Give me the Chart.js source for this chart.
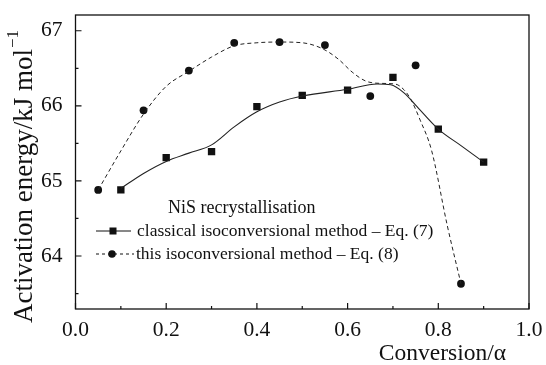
<!DOCTYPE html>
<html>
<head>
<meta charset="utf-8">
<script src="https://cdn.jsdelivr.net/npm/chart.js@4"></script>
<style>
  html, body { margin: 0; padding: 0; background: #fff; }
  #wrap { width: 546px; height: 365px; position: relative; }
</style>
</head>
<body>
<div id="wrap"><canvas id="myChart"></canvas></div>
<script>
// measured points
var xClassical = [0.1, 0.2, 0.3, 0.4, 0.5, 0.6, 0.7, 0.8, 0.9];
var eClassical = [64.88, 65.31, 65.39, 65.99, 66.14, 66.21, 66.38, 65.69, 65.25];
var xThis = [0.05, 0.15, 0.25, 0.35, 0.45, 0.55, 0.65, 0.75, 0.85];
var eThis = [64.88, 65.94, 66.47, 66.84, 66.85, 66.81, 66.13, 66.54, 63.63];

// fitted curves
var fitClassicalX = [0.1, 0.15, 0.2, 0.25, 0.3, 0.35, 0.4, 0.45, 0.5, 0.6, 0.665, 0.695, 0.725, 0.75, 0.8, 0.85, 0.9];
var fitClassicalE = [64.9, 65.1, 65.26, 65.37, 65.48, 65.72, 65.92, 66.05, 66.13, 66.22, 66.29, 66.28, 66.17, 66.01, 65.69, 65.47, 65.25];
var fitThisX = [0.05, 0.1, 0.15, 0.2, 0.25, 0.3, 0.35, 0.4, 0.45, 0.5, 0.545, 0.58, 0.61, 0.64, 0.67, 0.705, 0.725, 0.74, 0.76, 0.785, 0.82, 0.85];
var fitThisE = [64.88, 65.40, 65.89, 66.26, 66.46, 66.65, 66.80, 66.84, 66.85, 66.84, 66.76, 66.62, 66.45, 66.33, 66.30, 66.29, 66.21, 66.08, 65.81, 65.41, 64.40, 63.63];

var xTicks = [0.0, 0.2, 0.4, 0.6, 0.8, 1.0];
var xMinorTicks = [0.1, 0.3, 0.5, 0.7, 0.9];
var yTicks = [64, 65, 66, 67];
var yMinorTicks = [63.5, 64.5, 65.5, 66.5];

var legendTitle = 'NiS recrystallisation';
var legendLabels = ['classical isoconversional method \u2013 Eq. (7)', 'this isoconversional method \u2013 Eq. (8)'];
var xTitle = 'Conversion/\u03b1';
var yTitle = 'Activation energy/kJ mol';

var FONT = "'Liberation Serif', 'Times New Roman', serif";
var INK = '#111';

function pts(xs, ys) {
    return xs.map(function (x, i) { return { x: x, y: ys[i] }; });
}

var decor = {
    id: 'decor',
    afterDraw: function (chart) {
        var c = chart.ctx, a = chart.chartArea;
        var sx = chart.scales.x, sy = chart.scales.y;
        c.save();
        c.strokeStyle = INK;
        c.lineWidth = 1.3;
        c.strokeRect(a.left, a.top, a.right - a.left, a.bottom - a.top);
        c.lineWidth = 1.2;
        c.beginPath();
        xTicks.forEach(function (v) { var p = sx.getPixelForValue(v); c.moveTo(p, a.bottom); c.lineTo(p, a.bottom - 6); });
        xMinorTicks.forEach(function (v) { var p = sx.getPixelForValue(v); c.moveTo(p, a.bottom); c.lineTo(p, a.bottom - 3); });
        yTicks.forEach(function (v) { var p = sy.getPixelForValue(v); c.moveTo(a.left, p); c.lineTo(a.left + 6, p); });
        yMinorTicks.forEach(function (v) { var p = sy.getPixelForValue(v); c.moveTo(a.left, p); c.lineTo(a.left + 3, p); });
        c.stroke();

        // axis titles
        c.fillStyle = INK;
        c.font = '23.5px ' + FONT;
        c.textAlign = 'right';
        c.textBaseline = 'middle';
        c.fillText(xTitle, 506, 354);

        c.save();
        c.translate(25, 177);
        c.rotate(-Math.PI / 2);
        c.font = '27px ' + FONT;
        var w1 = c.measureText(yTitle).width;
        c.font = '17px ' + FONT;
        var w2 = c.measureText('\u22121').width;
        var start = -(w1 + w2) / 2;
        c.textAlign = 'left';
        c.font = '27px ' + FONT;
        c.fillText(yTitle, start, 0);
        c.font = '17px ' + FONT;
        c.fillText('\u22121', start + w1 + 1, -11);
        c.restore();

        // legend
        c.font = '18px ' + FONT;
        c.textAlign = 'left';
        c.fillText(legendTitle, 168, 208);
        c.lineWidth = 1;
        c.beginPath();
        c.moveTo(96, 231); c.lineTo(131, 231);
        c.stroke();
        c.fillRect(109.5, 227.5, 7, 7);
        c.font = '17.5px ' + FONT;
        c.fillText(legendLabels[0], 137, 231);
        c.setLineDash([3, 3]);
        c.beginPath();
        c.moveTo(96, 254); c.lineTo(134, 254);
        c.stroke();
        c.setLineDash([]);
        c.beginPath();
        c.arc(112, 254, 3.8, 0, Math.PI * 2);
        c.fill();
        c.fillText(legendLabels[1], 136, 254);
        c.restore();
    }
};

var ctx = document.getElementById('myChart').getContext('2d');
var myChart = new Chart(ctx, {
    type: 'scatter',
    data: {
        datasets: [{
            data: pts(fitClassicalX, fitClassicalE),
            showLine: true,
            pointRadius: 0,
            borderColor: '#222',
            borderWidth: 1.1,
            cubicInterpolationMode: 'monotone'
        },
        {
            data: pts(fitThisX, fitThisE),
            showLine: true,
            pointRadius: 0,
            borderColor: '#222',
            borderWidth: 1,
            borderDash: [4, 3],
            cubicInterpolationMode: 'monotone'
        },
        {
            data: pts(xClassical, eClassical),
            pointStyle: 'rect',
            pointRadius: 5.2,
            backgroundColor: INK,
            borderColor: INK,
            borderWidth: 0
        },
        {
            data: pts(xThis, eThis),
            pointStyle: 'circle',
            pointRadius: 3.9,
            backgroundColor: INK,
            borderColor: INK,
            borderWidth: 0
        }]
    },
    options: {
        animation: false,
        responsive: true,
        maintainAspectRatio: false,
        layout: { autoPadding: false, padding: { top: 15, right: 17, left: 0, bottom: 0 } },
        plugins: {
            legend: { display: false },
            tooltip: { enabled: false }
        },
        scales: {
            x: {
                min: 0,
                max: 1,
                afterFit: function (s) {
                    s.height = 56;
                    s.paddingLeft = 0; s.paddingRight = 0;
                },
                afterBuildTicks: function (s) { s.ticks = xTicks.map(function (v) { return { value: v }; }); },
                grid: { display: false, drawTicks: false },
                border: { display: false },
                ticks: {
                    padding: 8,
                    color: INK,
                    font: { family: FONT, size: 21.5 },
                    callback: function (v) { return Number(v).toFixed(1); }
                }
            },
            y: {
                min: 63.294,
                max: 67.21,
                afterFit: function (s) {
                    s.width = 75.5;
                    s.paddingTop = 0; s.paddingBottom = 0;
                },
                afterBuildTicks: function (s) { s.ticks = yTicks.map(function (v) { return { value: v }; }); },
                grid: { display: false, drawTicks: false },
                border: { display: false },
                ticks: {
                    padding: 13,
                    color: INK,
                    font: { family: FONT, size: 21.5 },
                    callback: function (v) { return String(v); }
                }
            }
        }
    },
    plugins: [decor]
});
</script>
</body>
</html>
